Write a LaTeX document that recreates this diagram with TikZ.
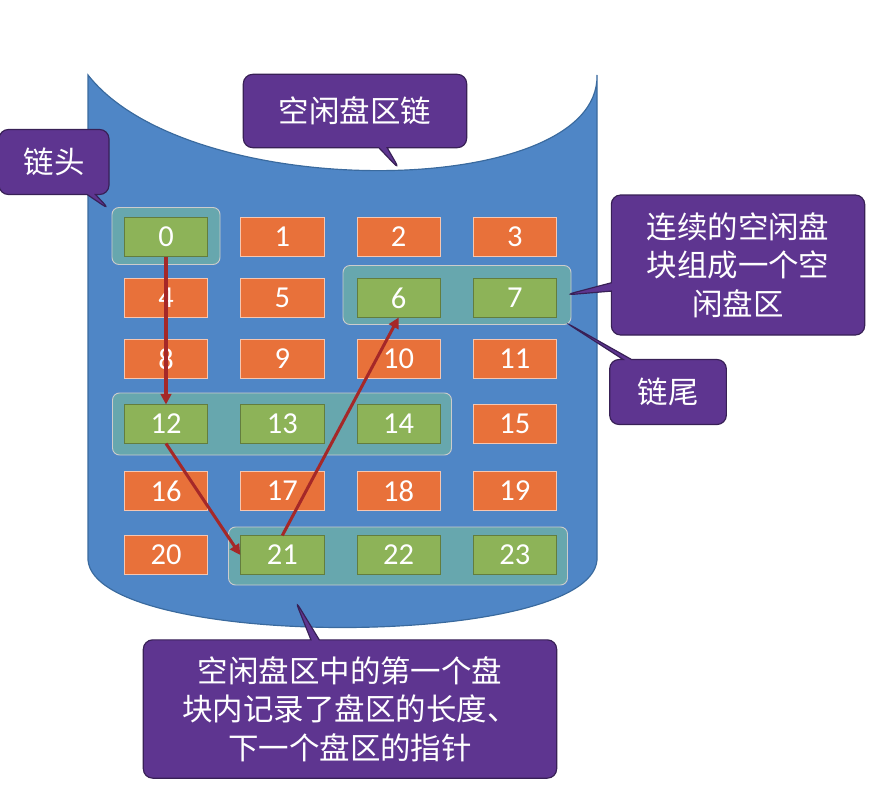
\documentclass[tikz,border=0pt]{standalone}
\usepackage{fontspec}
\newfontfamily\cjk{Noto Sans CJK SC}
\newfontfamily\num{Carlito}
\usetikzlibrary{shapes.callouts,arrows.meta}
\definecolor{cyl}{HTML}{4F86C6}
\definecolor{cylb}{HTML}{3A6A9E}
\definecolor{org}{HTML}{E8713A}
\definecolor{grn}{HTML}{8DB358}
\definecolor{pur}{HTML}{5E3590}
\definecolor{arr}{HTML}{A52828}
\begin{document}
\begin{tikzpicture}[x=0.03cm,y=-0.03cm,
 blk/.style={draw=white!60!org,line width=0.6pt,minimum width=2.5cm,minimum height=1.15cm,inner sep=0,text=white,font=\num\fontsize{26}{26}\selectfont},
 ob/.style={blk,fill=org},
 gb/.style={blk,fill=grn,draw=grn!70!black},
 grp/.style={rounded corners=6pt,fill=gray!50!green!60!white,fill opacity=0.4,draw=gray!40,line width=0.8pt},
 call/.style={rectangle callout,rounded corners=8pt,fill=pur,draw=pur!60!black,line width=1pt,text=white,font=\cjk\fontsize{26}{33}\selectfont,align=center,inner sep=0},
 ar/.style={arr,line width=2.6pt,-{Triangle[length=9pt,width=9pt]}}]
\useasboundingbox (0,0) rectangle (877,806);
\fill[cyl,draw=cylb,line width=1pt] (88,75) .. controls (190,205) and (600,200) .. (597,75) -- (597,560) .. controls (590,650) and (95,650) .. (88,560) -- cycle;
\node[grp,minimum width=3.24cm,minimum height=1.71cm] at (166,236) {};
\node[grp,minimum width=6.84cm,minimum height=1.77cm] at (457,295) {};
\node[grp,minimum width=10.17cm,minimum height=1.86cm] at (282,424) {};
\node[grp,minimum width=10.17cm,minimum height=1.74cm] at (398,556) {};
\foreach \n/\c/\r/\s in {0/0/0/gb,1/1/0/ob,2/2/0/ob,3/3/0/ob,4/0/1/ob,5/1/1/ob,6/2/1/gb,7/3/1/gb,8/0/2/ob,9/1/2/ob,10/2/2/ob,11/3/2/ob,12/0/3/gb,13/1/3/gb,14/2/3/gb,15/3/3/ob,16/0/4/ob,17/1/4/ob,18/2/4/ob,19/3/4/ob,20/0/5/ob,21/1/5/gb,22/2/5/gb,23/3/5/gb}{
  \pgfmathsetmacro\yy{ \r==3 ? 424 : (\r==4 ? 491 : (\r==5 ? 555 : 237+61*\r)) }
  \node[\s] (b\n) at ({166+116.3*\c},\yy) {\n};}
\draw[ar] (b0.south) -- (b12.north);
\draw[ar] (b12.south) -- (b21.west);
\draw[ar] (b21.north) -- (b6.south);
\node[call,minimum width=6.7cm,minimum height=2.2cm,callout absolute pointer={(400,170)}] (t1) at (355,111) {空闲盘区链};
\node[call,minimum width=3.3cm,minimum height=1.95cm,callout absolute pointer={(110,210)}] (t2) at (54,162) {链头};
\node[call,minimum width=7.6cm,minimum height=4.2cm,callout absolute pointer={(565,295)}] (t3) at (738,265) {连续的空闲盘\\块组成一个空\\闲盘区};
\node[call,minimum width=3.5cm,minimum height=1.95cm,callout absolute pointer={(565,322)}] (t4) at (668,392) {链尾};
\node[call,minimum width=12.4cm,minimum height=4.15cm,callout absolute pointer={(295,600)}] (t5) at (350,709) {空闲盘区中的第一个盘\\块内记录了盘区的长度、\\下一个盘区的指针};
\end{tikzpicture}
\end{document}
